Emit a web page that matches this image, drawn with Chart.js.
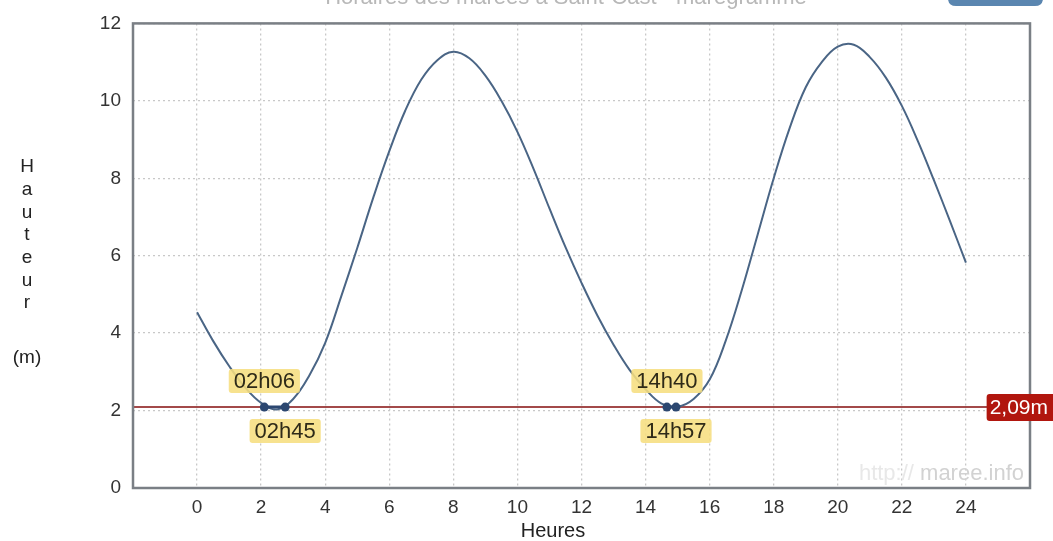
<!DOCTYPE html>
<html>
<head>
<meta charset="utf-8">
<script src="https://cdn.jsdelivr.net/npm/chart.js@4.4.1/dist/chart.umd.min.js"></script>
<style>
    body { margin: 0; background: #fff; }
    #wrap { width: 1053px; height: 541px; position: relative; }
</style>
</head>
<body>
<div id="wrap"><canvas id="maree-chart"></canvas></div>
<script>
let heures = [0, 0.5, 1, 1.5, 2, 2.5, 3, 3.5, 4, 4.5, 5, 5.5, 6, 6.5, 7, 7.5, 8, 8.5, 9, 9.5, 10, 10.5, 11, 11.5, 12, 12.5, 13, 13.5, 14, 14.5, 15, 15.5, 16, 16.5, 17, 17.5, 18, 18.5, 19, 19.5, 20, 20.5, 21, 21.5, 22, 22.5, 23, 23.5, 24];
let hauteurs = [4.54, 3.8, 3.15, 2.6, 2.2, 2.03, 2.3, 2.9, 3.75, 4.95, 6.2, 7.5, 8.7, 9.75, 10.55, 11.05, 11.27, 11.1, 10.65, 10.0, 9.2, 8.25, 7.22, 6.22, 5.3, 4.45, 3.7, 3.05, 2.55, 2.18, 2.1, 2.3, 2.8, 3.8, 5.1, 6.55, 8.0, 9.3, 10.35, 11.0, 11.4, 11.45, 11.13, 10.6, 9.87, 8.96, 7.95, 6.9, 5.82];
let niveau = 2.09;
let niveau_txt = '2,09m';
let passages_txt = ['02h06', '02h45', '14h40', '14h57'];
let passages_h = [2.1, 2.75, 14.667, 14.95];
let y_ticks = [0, 2, 4, 6, 8, 10, 12];
let x_ticks = [0, 2, 4, 6, 8, 10, 12, 14, 16, 18, 20, 22, 24];
let titre = 'Horaires des marées à Saint-Cast - marégramme';

const FONT = "'Liberation Sans', Arial, sans-serif";

function round_rect(ctx, x, y, w, h, r) {
    ctx.beginPath();
    ctx.moveTo(x + r, y);
    ctx.lineTo(x + w - r, y);
    ctx.quadraticCurveTo(x + w, y, x + w, y + r);
    ctx.lineTo(x + w, y + h - r);
    ctx.quadraticCurveTo(x + w, y + h, x + w - r, y + h);
    ctx.lineTo(x + r, y + h);
    ctx.quadraticCurveTo(x, y + h, x, y + h - r);
    ctx.lineTo(x, y + r);
    ctx.quadraticCurveTo(x, y, x + r, y);
    ctx.closePath();
}

const frame_plugin = {
    id: 'frame',
    beforeDatasetsDraw(chart) {
        let a = chart.chartArea;
        let ctx = chart.ctx;
        ctx.save();
        // filigrane
        ctx.font = '22px ' + FONT;
        ctx.textBaseline = 'alphabetic';
        ctx.textAlign = 'right';
        ctx.fillStyle = '#d2d2d2';
        ctx.fillText('maree.info', a.right - 6, a.bottom - 8);
        let w = ctx.measureText('maree.info').width;
        ctx.fillStyle = '#e8e8e8';
        ctx.fillText('http:// ', a.right - 6 - w, a.bottom - 8);
        ctx.restore();
    },
    afterDraw(chart) {
        let a = chart.chartArea;
        let ctx = chart.ctx;
        let ys = chart.scales.y;
        let xs = chart.scales.x;
        ctx.save();
        // cadre
        ctx.strokeStyle = '#7a7f85';
        ctx.lineWidth = 2.5;
        ctx.strokeRect(a.left, a.top, a.right - a.left, a.bottom - a.top);

        // titre coupé en haut + bouton
        ctx.font = '22px ' + FONT;
        ctx.fillStyle = '#b8b8b8';
        ctx.textAlign = 'center';
        ctx.textBaseline = 'alphabetic';
        ctx.fillText(titre, 566, 4);
        ctx.fillStyle = '#5a86b0';
        round_rect(ctx, 948, -20, 95, 26, 8);
        ctx.fill();

        // titre axe y vertical
        ctx.fillStyle = '#222';
        ctx.font = '19px ' + FONT;
        ctx.textAlign = 'center';
        ctx.textBaseline = 'middle';
        let lettres = 'Hauteur'.split('');
        lettres.forEach((c, i) => ctx.fillText(c, 27, 167 + i * 22.7));
        ctx.fillText('(m)', 27, 358);

        // titre axe x
        ctx.font = '20px ' + FONT;
        ctx.fillText('Heures', 553, 531);

        // étiquettes des passages
        let yl = ys.getPixelForValue(niveau);
        ctx.font = '22px ' + FONT;
        passages_txt.forEach((t, i) => {
            let xp = xs.getPixelForValue(passages_h[i]);
            let yc = (i % 2 == 0) ? yl - 26 : yl + 24;
            let tw = ctx.measureText(t).width + 10;
            ctx.fillStyle = 'rgba(246, 222, 128, 0.88)';
            round_rect(ctx, xp - tw / 2, yc - 12, tw, 24, 3);
            ctx.fill();
            ctx.fillStyle = '#2e2a18';
            ctx.fillText(t, xp, yc + 1);
        });

        // étiquette du niveau
        ctx.font = '21px ' + FONT;
        let nw = ctx.measureText(niveau_txt).width + 8;
        ctx.fillStyle = '#b1160e';
        round_rect(ctx, 1053 - nw, yl - 13, nw + 4, 27, 3);
        ctx.fill();
        ctx.fillStyle = '#fff';
        ctx.textAlign = 'left';
        ctx.fillText(niveau_txt, 1053 - nw + 3, yl + 1);
        ctx.restore();
    }
};

let courbe = heures.map((h, i) => ({ x: h, y: hauteurs[i] }));
let points = [];
passages_h.forEach((h, i) => {
    points.push({ x: h, y: niveau });
    if (i % 2 == 1 && i < passages_h.length - 1) points.push({ x: NaN, y: null });
});

let ctx = document.getElementById('maree-chart');
let chart = new Chart(ctx, {
    type: 'line',
    data: {
        datasets: [
            {
                label: 'passages',
                data: points,
                borderColor: '#2c4770',
                backgroundColor: '#2c4770',
                borderWidth: 3,
                pointRadius: 4.5,
                pointBorderWidth: 0,
                spanGaps: false,
                order: 0
            },
            {
                label: 'hauteur',
                data: courbe,
                borderColor: '#4a6585',
                borderWidth: 2,
                pointRadius: 0,
                tension: 0.4,
                fill: false,
                order: 1
            },
            {
                label: 'niveau',
                data: [{ x: -2, y: niveau }, { x: 26, y: niveau }],
                borderColor: '#a34a4a',
                borderWidth: 2,
                pointRadius: 0,
                order: 2
            }
        ]
    },
    options: {
        responsive: true,
        maintainAspectRatio: false,
        animation: false,
        layout: { padding: { top: 18, right: 23, left: 0, bottom: 0 } },
        plugins: {
            legend: { display: false },
            tooltip: { enabled: false }
        },
        scales: {
            x: {
                type: 'linear',
                min: -2,
                max: 26,
                afterBuildTicks: (s) => { s.ticks = [-2].concat(x_ticks, [26]).map(v => ({ value: v })); },
                ticks: {
                    callback: (v) => x_ticks.includes(v) ? v : '',
                    color: '#333',
                    font: { size: 19, family: FONT },
                    maxRotation: 0,
                    padding: 8
                },
                grid: { color: '#c8c8c8', lineWidth: 1.3, drawTicks: false },
                border: { display: false, dash: [2, 3] },
                afterFit: (s) => { s.height = 53; }
            },
            y: {
                min: 0,
                max: 12,
                afterBuildTicks: (s) => { s.ticks = y_ticks.map(v => ({ value: v })); },
                ticks: {
                    color: '#333',
                    font: { size: 19, family: FONT },
                    padding: 12
                },
                grid: { color: '#c8c8c8', lineWidth: 1.3, drawTicks: false },
                border: { display: false, dash: [2, 3] },
                afterFit: (s) => { s.width = 133; }
            }
        }
    },
    plugins: [frame_plugin]
});
</script>
</body>
</html>
